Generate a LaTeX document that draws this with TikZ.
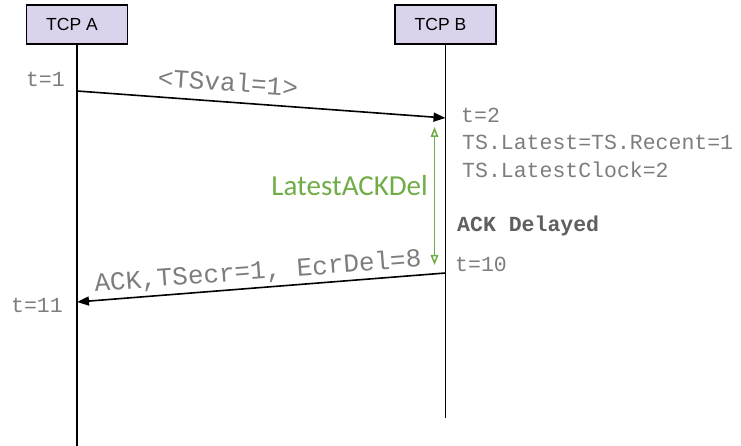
\documentclass[tikz,border=0pt]{standalone}
\usepackage{fontspec}
\setmainfont{Liberation Sans}
\newfontfamily\codefont{Liberation Mono}
\newfontfamily\notefont{Carlito}
\usetikzlibrary{arrows.meta}

\definecolor{boxfill}{RGB}{218,211,235}
\definecolor{codegray}{RGB}{125,125,125}
\definecolor{darkcode}{RGB}{95,95,95}
\definecolor{delgreen}{RGB}{112,173,71}

\tikzset{
  lifebox/.style={draw=black, line width=1.5pt, fill=boxfill,
    minimum width=101pt, minimum height=39pt, inner sep=0pt},
  boxtext/.style={font=\fontsize{17.5}{20}\selectfont, inner sep=0pt},
  lifeline/.style={draw=black, line width=1.6pt},
  msg/.style={draw=black, line width=1.6pt, -{Triangle[length=12pt,width=9pt]}},
  delay/.style={draw=delgreen, line width=1.5pt,
    {Triangle[open,length=10pt,width=7.5pt]}-{Triangle[open,length=10pt,width=7.5pt]}},
  small/.style={font=\codefont\fontsize{21.5}{24}\selectfont, text=codegray, inner sep=0pt},
  smallbold/.style={font=\codefont\bfseries\fontsize{21.5}{24}\selectfont, text=darkcode, inner sep=0pt},
  big/.style={font=\codefont\fontsize{26}{30}\selectfont, text=codegray, inner sep=0pt},
  greennote/.style={font=\notefont\fontsize{29}{32}\selectfont, text=delgreen, inner sep=0pt}
}

\begin{document}
\begin{tikzpicture}[x=1pt, y=-1pt]
  \useasboundingbox (0,0) rectangle (741,446);

  % the two endpoints
  \node[lifebox, label={[boxtext, name=labA, xshift=-5pt]center:TCP A}] (boxA) at (77,24.5) {};
  \node[lifebox, label={[boxtext, name=labB, xshift=-5pt]center:TCP B}] (boxB) at (445.5,24.5) {};

  \coordinate (endA) at (77,446);
  \coordinate (endB) at (445.5,418);
  \draw[lifeline] (boxA.south) -- (endA);
  \draw[lifeline] (boxB.south) -- (endB);

  % segment sent by A
  \coordinate (a1) at (77,91);
  \coordinate (b1) at (445.5,118);
  \draw[msg] (a1) -- (b1);
  \node[big, rotate=-4.1] (tsval) at (228,82) {<TSval=1>};

  % delayed acknowledgement sent by B
  \coordinate (b2) at (445.5,273);
  \coordinate (a2) at (77,302);
  \draw[msg] (b2) -- (a2);
  \node[big, rotate=4.3] (ackmsg) at (258,272) {ACK,TSecr=1, EcrDel=8};

  % delay interval at B
  \coordinate (d1) at (434.5,127);
  \coordinate (d2) at (434.5,265);
  \draw[delay] (d1) -- (d2);
  \node[greennote, anchor=base east] (delname) at (428,196) {LatestACKDel};

  % times and state
  \node[small, anchor=base east] (t1) at (65,87) {t=1};
  \node[small, anchor=base west] (t2) at (461,123) {t=2};
  \node[small, anchor=base west] (tsl) at (462,150) {TS.Latest=TS.Recent=1};
  \node[small, anchor=base west] (tsc) at (462,178) {TS.LatestClock=2};
  \node[smallbold, anchor=base west] (ackd) at (457,232) {ACK Delayed};
  \node[small, anchor=base west] (t10) at (455,272) {t=10};
  \node[small, anchor=base east] (t11) at (63,312) {t=11};
\end{tikzpicture}
\end{document}
